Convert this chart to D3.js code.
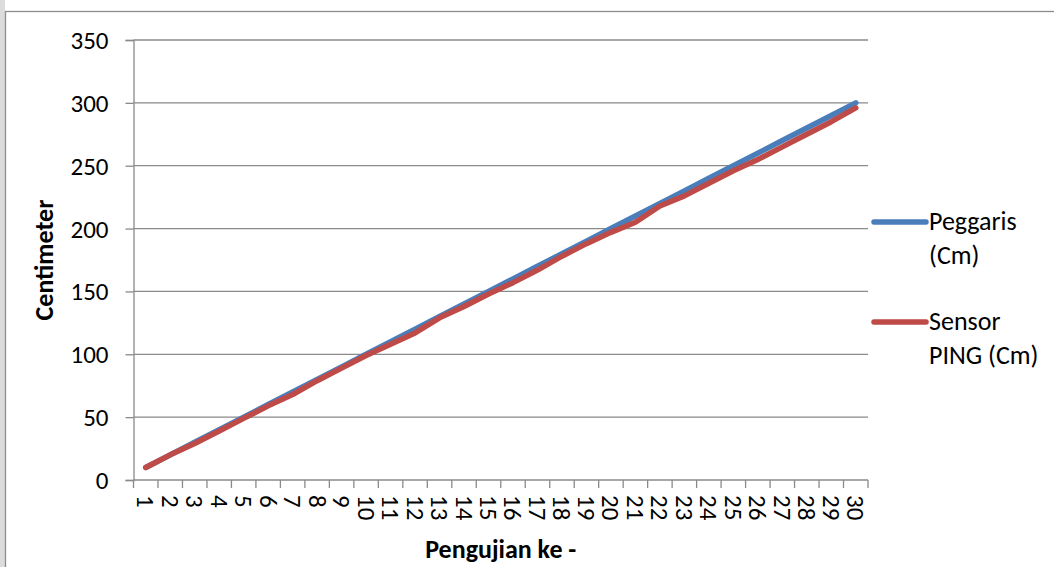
<!DOCTYPE html>
<html>
<head>
<meta charset="utf-8">
<script src="https://cdn.jsdelivr.net/npm/d3@7"></script>
<style>
  html, body { margin: 0; padding: 0; background: #ffffff; }
  svg { display: block; }
  text { font-family: Carlito, Calibri, Lato, "Open Sans", sans-serif; fill: #000; }
</style>
</head>
<body>
<svg id="chart" width="1054" height="567"></svg>
<script>
// Test number (Pengujian ke-)
const categories = d3.range(1, 31).map(String);
// Ruler measurement (cm)
const peggaris = [10, 20, 30, 40, 50, 60, 70, 80, 90, 100, 110, 120, 130, 140, 150,
                  160, 170, 180, 190, 200, 210, 220, 230, 240, 250, 260, 270, 280, 290, 300];
// PING ultrasonic sensor reading (cm)
const sensorPing = [10, 20, 29, 39, 49, 59, 68, 79, 89, 99, 108, 117, 129, 138, 148,
                    157, 167, 178, 188, 197, 205, 218, 226, 236, 246, 255, 265, 275, 285, 296];
const yTicks = [0, 50, 100, 150, 200, 250, 300, 350];
const seriesNames = [["Peggaris", "(Cm)"], ["Sensor", "PING (Cm)"]];
const seriesColors = ["#4A7EBB", "#BE4B48"];

const svg = d3.select("#chart");
const W = 1054, H = 567;
const plot = { left: 133.5, right: 868, top: 40, bottom: 480 };
const tickFont = "25px";

// page background bits around the chart frame
svg.append("rect").attr("x", 0).attr("y", 0).attr("width", 5).attr("height", H).attr("fill", "#dcdcdc");
svg.append("rect").attr("x", 5.5).attr("y", 11.5).attr("width", W + 10).attr("height", H + 10)
  .attr("fill", "#ffffff").attr("stroke", "#8c8c8c").attr("stroke-width", 1.3);

const x = d3.scaleBand().domain(categories).range([plot.left, plot.right]).paddingInner(0).paddingOuter(0);
const y = d3.scaleLinear().domain([0, 350]).range([plot.bottom, plot.top]);

// horizontal gridlines
svg.append("g")
  .selectAll("line")
  .data(yTicks.filter(d => d > 0))
  .join("line")
  .attr("x1", plot.left).attr("x2", plot.right)
  .attr("y1", d => y(d)).attr("y2", d => y(d))
  .attr("stroke", "#8a8a8a").attr("stroke-width", 1.3);

// y axis
const yAxis = svg.append("g").attr("transform", `translate(${plot.left},0)`)
  .call(d3.axisLeft(y).tickValues(yTicks).tickSize(8).tickPadding(17).tickFormat(d3.format("d")));
yAxis.select(".domain").attr("stroke", "#8a8a8a").attr("stroke-width", 1.3);
yAxis.selectAll(".tick line").attr("stroke", "#8a8a8a").attr("stroke-width", 1.3);
yAxis.selectAll(".tick text")
  .style("font-family", "Carlito, Calibri, Lato, sans-serif")
  .style("font-size", tickFont).attr("fill", "#000").attr("dy", "0.34em");

// x axis: tick marks between categories
const xAxisG = svg.append("g").attr("transform", `translate(0,${plot.bottom})`);
xAxisG.append("line").attr("x1", plot.left).attr("x2", plot.right)
  .attr("stroke", "#8a8a8a").attr("stroke-width", 1.3);
const boundaries = categories.map(c => x(c)).concat([x(categories[categories.length - 1]) + x.bandwidth()]);
xAxisG.selectAll("line.tk").data(boundaries).join("line").attr("class", "tk")
  .attr("x1", d => d).attr("x2", d => d).attr("y1", 0).attr("y2", 8)
  .attr("stroke", "#8a8a8a").attr("stroke-width", 1.3);
xAxisG.selectAll("text.cat").data(categories).join("text").attr("class", "cat")
  .attr("transform", d => `translate(${x(d) + x.bandwidth() / 2},15) rotate(90)`)
  .attr("text-anchor", "start").attr("dy", "0.34em")
  .style("font-size", tickFont)
  .text(d => d);

// axis titles
svg.append("text").attr("x", (plot.left + plot.right) / 2).attr("y", 558)
  .attr("text-anchor", "middle").style("font-size", "26px").style("font-weight", "bold")
  .text("Pengujian ke -");
svg.append("text").attr("transform", `translate(53,260) rotate(-90)`)
  .attr("text-anchor", "middle").style("font-size", "26px").style("font-weight", "bold")
  .text("Centimeter");

// series lines
const line = d3.line().x((d, i) => x(categories[i]) + x.bandwidth() / 2).y(d => y(d));
[peggaris, sensorPing].forEach((vals, k) => {
  svg.append("path").datum(vals).attr("d", line)
    .attr("fill", "none").attr("stroke", seriesColors[k]).attr("stroke-width", 5.5)
    .attr("stroke-linecap", "round").attr("stroke-linejoin", "round");
});

// legend
const legendY = [222, 322];
seriesNames.forEach((lines, k) => {
  const g = svg.append("g");
  g.append("line").attr("x1", 874).attr("x2", 926).attr("y1", legendY[k]).attr("y2", legendY[k])
    .attr("stroke", seriesColors[k]).attr("stroke-width", 5.5).attr("stroke-linecap", "round");
  lines.forEach((t, j) => {
    g.append("text").attr("x", 929).attr("y", legendY[k] + 8 + j * 34)
      .style("font-size", "26px").text(t);
  });
});
</script>
</body>
</html>
